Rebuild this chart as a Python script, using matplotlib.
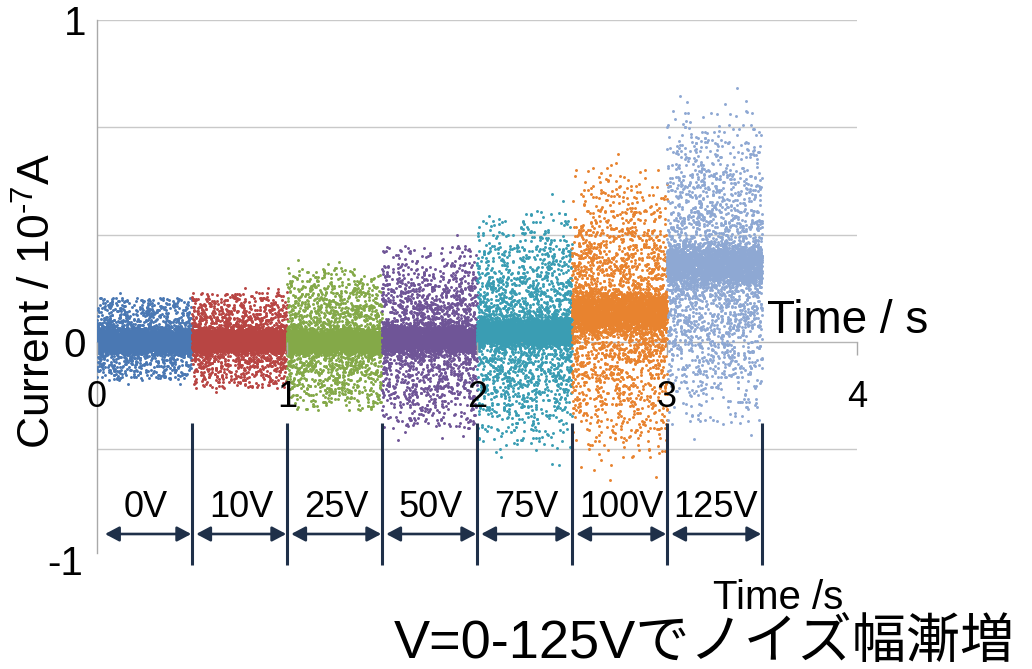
import numpy as np
import matplotlib
matplotlib.use("Agg")
import matplotlib.pyplot as plt
from matplotlib import font_manager as fm

# ---------------- data ----------------
voltage_labels = ["0V", "10V", "25V", "50V", "75V", "100V", "125V"]
segment_start = [0.0, 0.5, 1.0, 1.5, 2.0, 2.5, 3.0]          # s
segment_length = 0.5                                          # s
core_center = [0.004, 0.006, 0.002, 0.012, 0.031, 0.091, 0.239]     # 1e-7 A
core_halfwidth = [0.034, 0.033, 0.035, 0.038, 0.040, 0.055, 0.057]
halo_center = [0.011, 0.006, 0.010, 0.015, 0.037, 0.092, 0.232]
halo_amplitude = [0.128, 0.150, 0.220, 0.285, 0.372, 0.458, 0.490]
halo_fraction = [0.28, 0.32, 0.36, 0.40, 0.44, 0.48, 0.48]
halo_spread = [0.65, 0.60, 0.55, 0.50, 0.47, 0.45, 0.45]
samples_per_segment = 4500
series_colors = ["#4a78b3", "#b84543", "#84a948", "#6f5597",
                 "#3a9db3", "#e8832f", "#8ea8d3"]
x_ticks = [0, 1, 2, 3, 4]
y_tick_values = [0, 1]
y_tick_labels = ["0", "1"]
grid_levels = [-1 / 3, 1 / 3, 2 / 3, 1.0]

# ---------------- fonts ----------------
names = {f.name for f in fm.fontManager.ttflist}
MAIN = "Liberation Sans" if "Liberation Sans" in names else "DejaVu Sans"
NARROW = "Liberation Sans Narrow" if "Liberation Sans Narrow" in names else MAIN
plt.rcParams["font.family"] = [MAIN, "Noto Sans CJK JP", "DejaVu Sans"]
plt.rcParams["mathtext.fontset"] = "custom"
plt.rcParams["mathtext.rm"] = MAIN

# ---------------- signal samples ----------------
rng = np.random.default_rng(11)


def make_segment(k):
    n = samples_per_segment
    t = segment_start[k] + np.arange(n) * segment_length / n
    is_halo = rng.random(n) < halo_fraction[k]
    hw = core_halfwidth[k]
    y = (core_center[k] + hw * 0.8 * rng.uniform(-1, 1, n)
         + rng.normal(0, 0.28 * hw, n))
    nh = int(is_halo.sum())
    z = rng.normal(0, halo_spread[k], nh * 3)
    z = z[np.abs(z) <= 1.0][:nh]
    # a handful of sparse outliers beyond the envelope
    m = max(1, nh // 300)
    z[:m] = rng.choice([-1, 1], m) * rng.uniform(1.0, 1.14, m)
    z = rng.permutation(z)
    y[is_halo] = halo_center[k] + halo_amplitude[k] * z
    return t, y


# ---------------- figure ----------------
W, H = 1032, 669
fig = plt.figure(figsize=(W / 100, H / 100), dpi=100)
ax = fig.add_axes([97 / W, 1 - 553 / H, 760 / W, 533 / H])
ax.set_xlim(0, 4)
ax.set_ylim(-0.655, 1.0)

for g in grid_levels:
    ax.axhline(g, color="#c9c9c9", lw=1.0, zorder=0)

for k in range(len(voltage_labels)):
    t, y = make_segment(k)
    ax.scatter(t, y, s=4.5, color=series_colors[k], linewidths=0, zorder=1)

for side in ["top", "right"]:
    ax.spines[side].set_visible(False)
ax.spines["left"].set_color("#a9a9a9")
ax.spines["left"].set_linewidth(1.0)
ax.spines["left"].set_zorder(0.5)
ax.spines["bottom"].set_position(("data", 0))
ax.spines["bottom"].set_color("#b5b5b5")
ax.spines["bottom"].set_linewidth(1.0)
ax.spines["bottom"].set_zorder(0.5)

ax.set_xticks(x_ticks)
ax.set_xticklabels([str(v) for v in x_ticks])
ax.tick_params(axis="x", direction="out", length=9, width=1.0,
               color="#a9a9a9", labelsize=26, pad=18)
ax.set_yticks(y_tick_values)
ax.set_yticklabels(y_tick_labels)
ax.tick_params(axis="y", length=0, labelsize=29, pad=8)

# extra "-1" label at the bottom of the value axis
ax.text(-0.072, -0.69, "-1", ha="right", va="center", fontsize=29,
        clip_on=False)

# axis titles
fig.text(38 / W, 1 - 301 / H, "Current / 10$^{\u20107}$A", rotation=90,
         ha="center", va="center", fontsize=32)
ax.text(3.526, 0.065, "Time / s", ha="left", va="center", fontsize=33)

# voltage segments: separators, double arrows and labels
navy = "#1f3049"
y_arrow = -0.596
for k in range(len(voltage_labels)):
    x0 = segment_start[k]
    x1 = x0 + segment_length
    ax.plot([x1, x1], [-0.252, -0.692], color=navy, lw=2.2,
            clip_on=False, zorder=3, solid_capstyle="butt")
    start = x0 + (0.042 if k == 0 else 0.022)
    ax.annotate("", xy=(x1 - 0.004, y_arrow), xytext=(start, y_arrow),
                arrowprops=dict(arrowstyle="<|-|>,head_length=0.85,head_width=0.45",
                                mutation_scale=10, lw=1.9, color=navy,
                                shrinkA=0, shrinkB=0),
                annotation_clip=False, zorder=3)
    ax.text(x0 + segment_length / 2 + 0.008, -0.515, voltage_labels[k],
            ha="center", va="center", fontsize=26, clip_on=False)

# bottom captions
fig.text(713 / W, 1 - 598 / H, "Time /s", ha="left", va="center",
         fontsize=29, family=[NARROW, MAIN])
fig.text(394 / W, 1 - 644 / H, "V=0-125Vでノイズ幅漸増", ha="left", va="center",
         fontsize=39, family=[NARROW, "Noto Sans CJK JP", "DejaVu Sans"])

fig.savefig("out.png", dpi=100)
